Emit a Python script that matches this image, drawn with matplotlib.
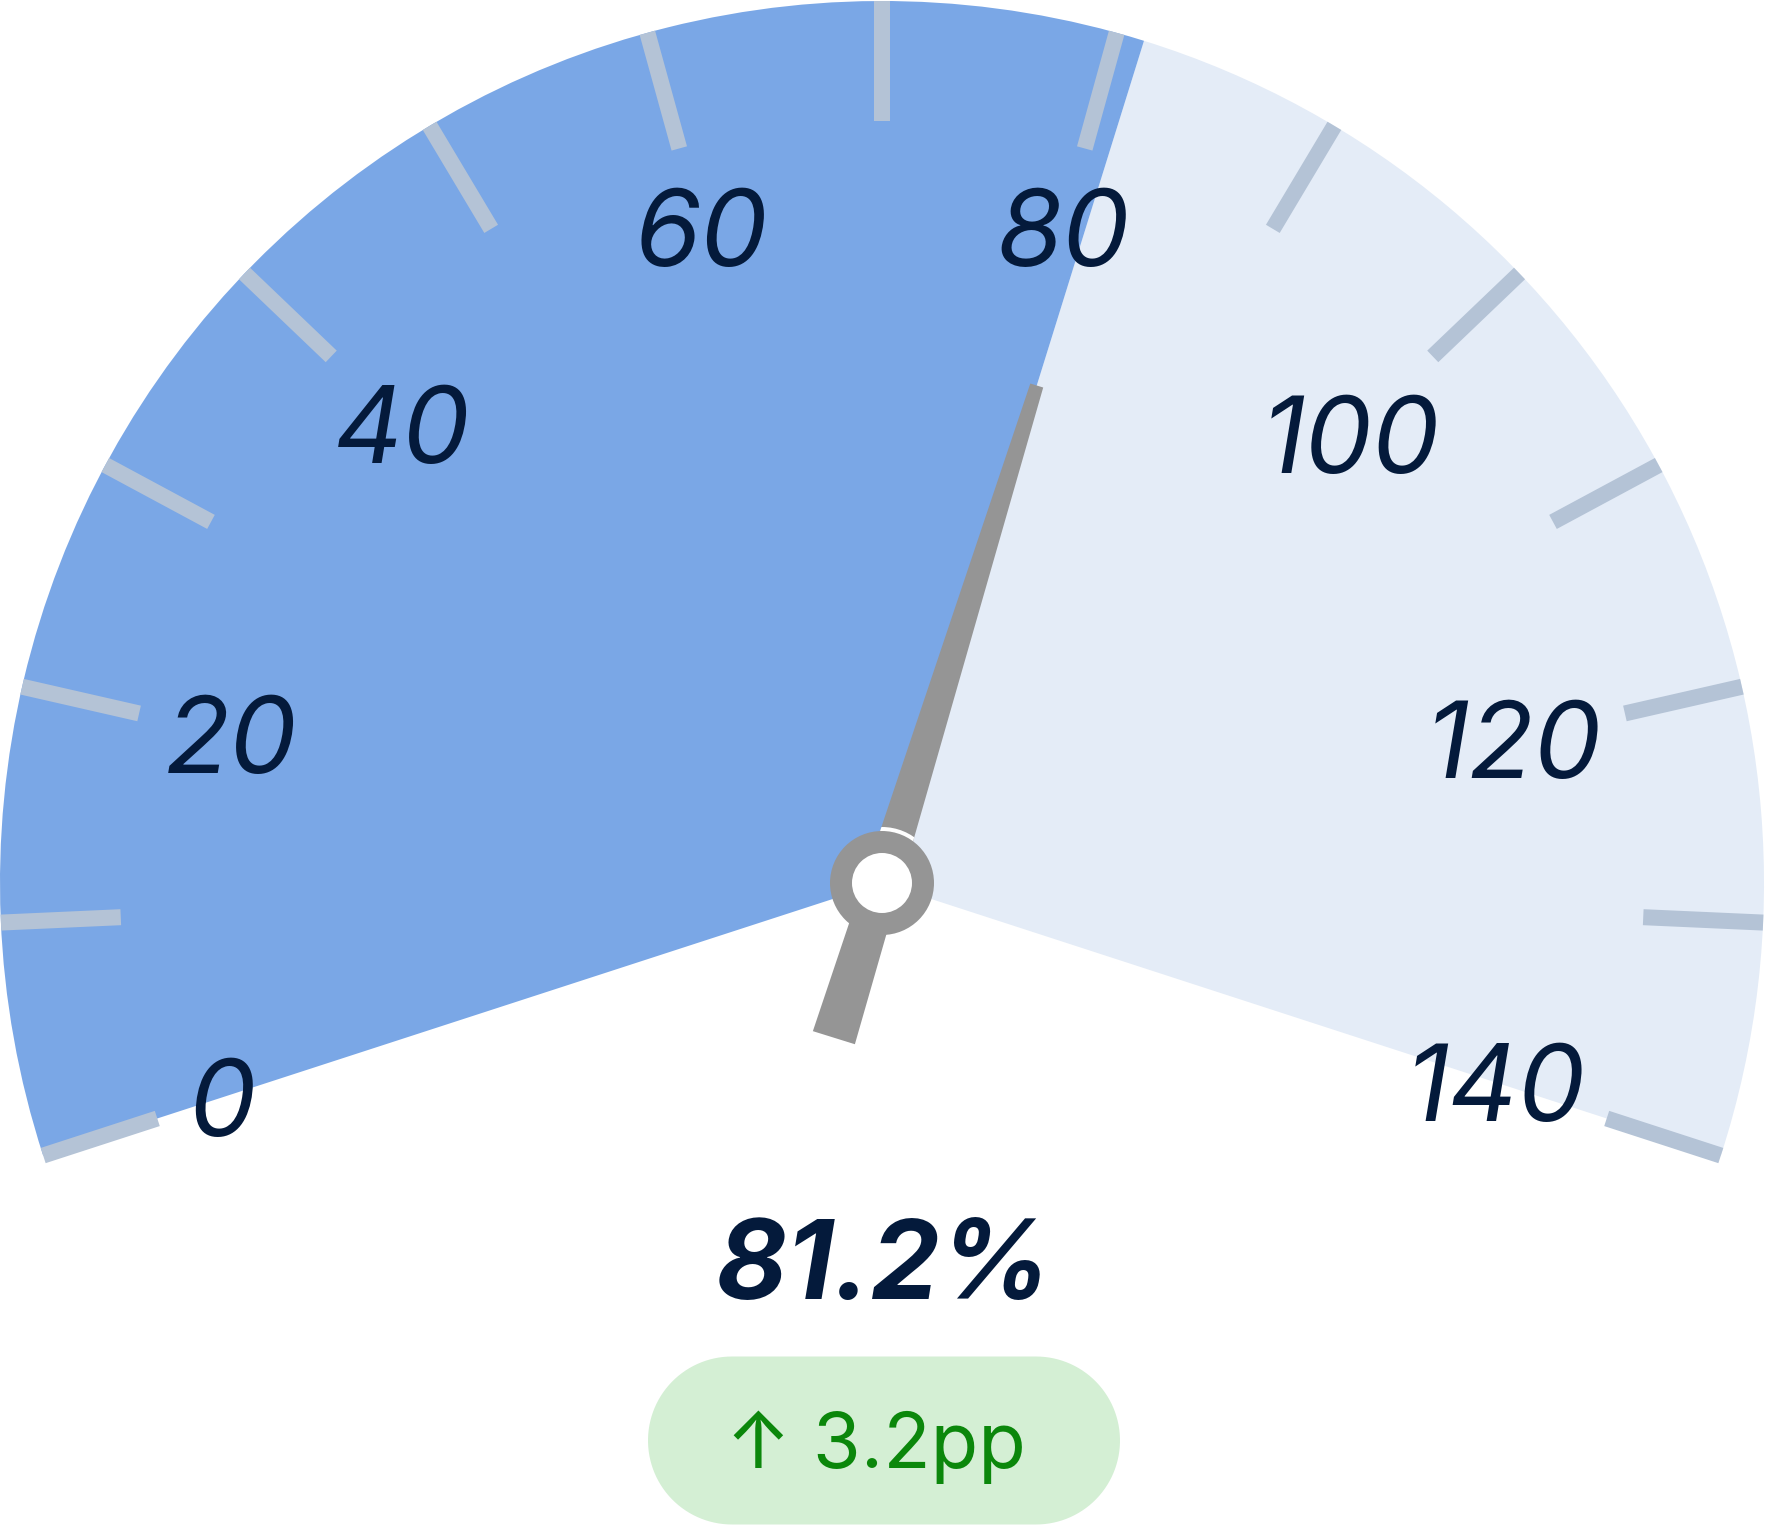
import matplotlib
matplotlib.use("Agg")
import matplotlib.pyplot as plt
import numpy as np
from matplotlib.patches import Wedge, Circle, Polygon

# ---------------- data ----------------
gauge_min = 0
gauge_max = 140
value = 81.2
value_label = "81.2%"
delta_label = "\u2191 3.2pp"
tick_values = [0, 10, 20, 30, 40, 50, 60, 70, 80, 90, 100, 110, 120, 130, 140]
label_values = [0, 20, 40, 60, 80, 100, 120, 140]

# ---------------- style ----------------
BLUE = "#7aa7e6"
LIGHT = "#e4ecf7"
TICK = "#b4c3d6"
NAVY = "#041a3b"
NEEDLE = "#959595"
BADGE_BG = "#d4efd4"
BADGE_FG = "#0b870b"
START_ANGLE, SPAN = 198.0, 216.0
FONT = ["Inter", "DejaVu Sans"]

W, H = 1768, 1525
fig = plt.figure(figsize=(W / 100, H / 100), dpi=100)
ax = fig.add_axes([0, 0, 1, 1])
ax.set_xlim(0, W)
ax.set_ylim(0, H)
ax.set_aspect("equal")
ax.axis("off")

cx, cy = 882.0, H - 883.0
R = 882.0


def ang(v):
    return START_ANGLE - (v - gauge_min) / (gauge_max - gauge_min) * SPAN


a_val = ang(value)
# background and progress sectors
ax.add_patch(Wedge((cx, cy), R, ang(gauge_max), a_val, facecolor=LIGHT, edgecolor="none", zorder=1))
ax.add_patch(Wedge((cx, cy), R, a_val, ang(gauge_min), facecolor=BLUE, edgecolor="none", zorder=1))

# ticks
for v in tick_values:
    t = np.deg2rad(ang(v))
    r1, r2 = R - 120, R
    ax.plot([cx + r1 * np.cos(t), cx + r2 * np.cos(t)],
            [cy + r1 * np.sin(t), cy + r2 * np.sin(t)],
            color=TICK, lw=16 * 0.72, solid_capstyle="butt", zorder=2)

# labels (box fitted inside a circle of radius `support`)
renderer = fig.canvas.get_renderer()
lab_size = 77
cap_h = 0.727 * lab_size / 0.72
support = 736
for v in label_values:
    t = np.deg2rad(ang(v))
    txt = ax.text(0, 0, str(v), fontsize=lab_size, family=FONT, style="italic",
                  color=NAVY, ha="center", va="baseline", zorder=3)
    w = txt.get_window_extent(renderer).width * 0.92
    B = abs(np.cos(t)) * w / 2 + abs(np.sin(t)) * cap_h / 2
    C = w * w / 4 + cap_h * cap_h / 4 - support ** 2
    rho = -B + np.sqrt(B * B - C)
    txt.set_position((cx + rho * np.cos(t), cy + rho * np.sin(t) - cap_h / 2))

# needle
phi = np.deg2rad(a_val)
u = np.array([np.cos(phi), np.sin(phi)])
n = np.array([-np.sin(phi), np.cos(phi)])
c = np.array([cx, cy])
d_tail, d_tip = -162.0, 521.0
hw_tail, hw_tip = 22.0, 6.75
tail = c + u * d_tail
tip = c + u * d_tip
needle = Polygon([tail + n * hw_tail, tip + n * hw_tip, tip - n * hw_tip, tail - n * hw_tail],
                 closed=True, facecolor=NEEDLE, edgecolor="none", zorder=4)
ax.add_patch(needle)
hw0 = hw_tail - (hw_tail - hw_tip) * (0 - d_tail) / (d_tip - d_tail)
front = Polygon([c + n * hw0, tip + n * hw_tip, tip - n * hw_tip, c - n * hw0],
                closed=True, facecolor="none", edgecolor="none")
ax.add_patch(front)
gap = Circle((cx, cy), 56, facecolor="white", edgecolor="none", zorder=5)
ax.add_patch(gap)
gap.set_clip_path(front)
ax.add_patch(Circle((cx, cy), 52, facecolor=NEEDLE, edgecolor="none", zorder=6))
ax.add_patch(Circle((cx, cy), 30, facecolor="white", edgecolor="none", zorder=7))

# value text
ax.text(cx + 2, H - 1299, value_label, fontsize=79, family=FONT, style="italic", weight="bold",
        color=NAVY, ha="center", va="baseline", zorder=8)

# delta badge (stadium shape)
bx0, bx1 = 648.0, 1120.0
by0, by1 = H - 1524.5, H - 1356.5
br = (by1 - by0) / 2
bym = (by0 + by1) / 2
th_r = np.linspace(-np.pi / 2, np.pi / 2, 60)
th_l = np.linspace(np.pi / 2, 3 * np.pi / 2, 60)
pts = np.concatenate([
    np.column_stack([bx1 - br + br * np.cos(th_r), bym + br * np.sin(th_r)]),
    np.column_stack([bx0 + br + br * np.cos(th_l), bym + br * np.sin(th_l)]),
])
ax.add_patch(Polygon(pts, closed=True, facecolor=BADGE_BG, edgecolor="none", zorder=8))
ax.text((bx0 + bx1) / 2 - 8, H - 1468, delta_label, fontsize=56, family=FONT,
        color=BADGE_FG, ha="center", va="baseline", zorder=9)

fig.savefig("out.png", dpi=100, facecolor="white")
